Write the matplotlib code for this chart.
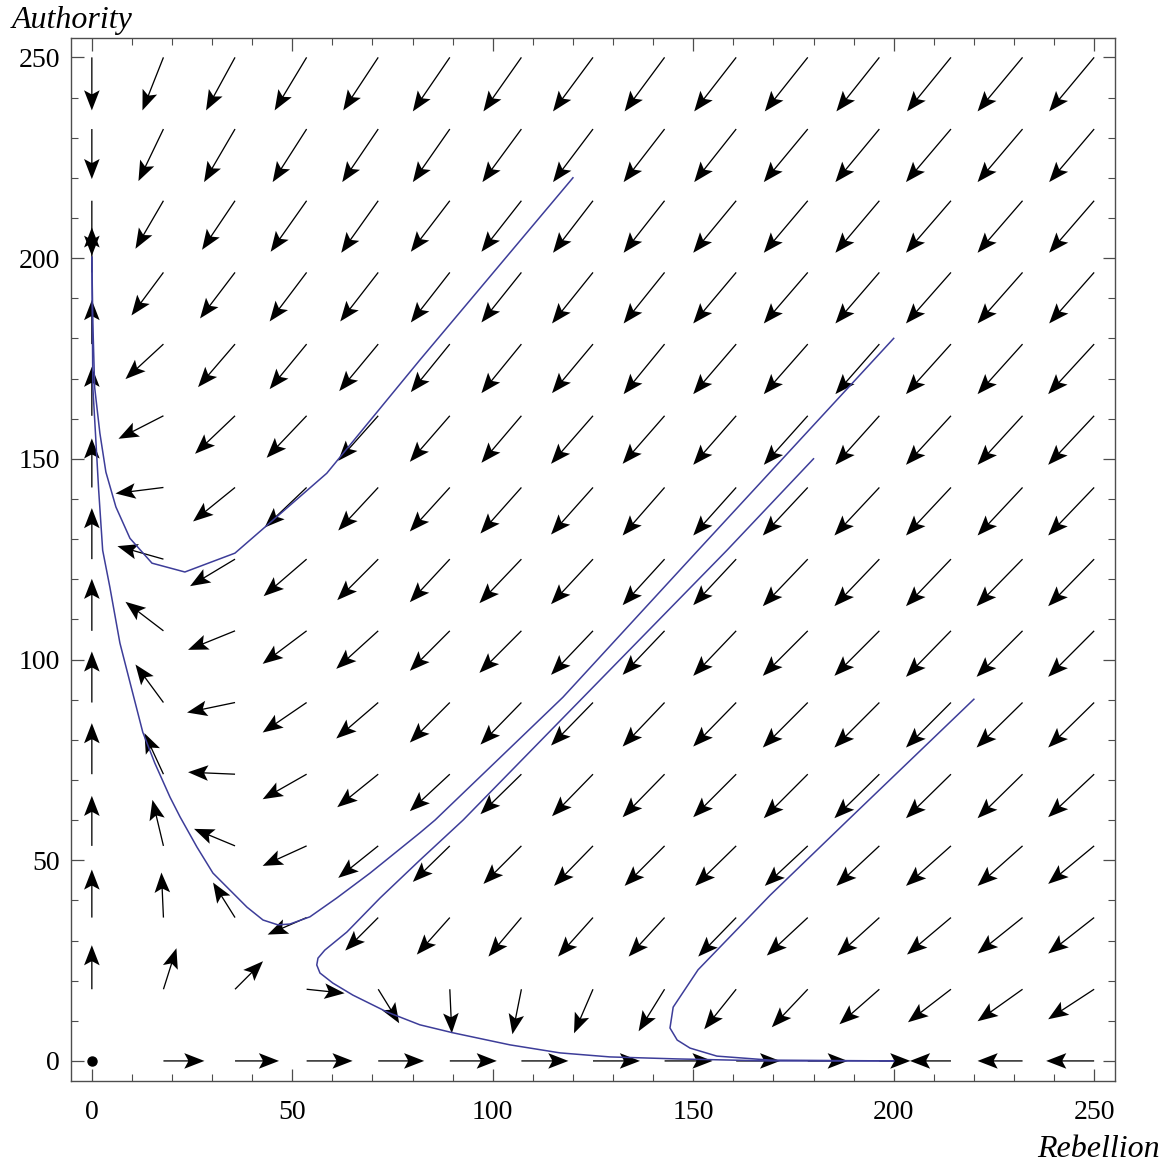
import numpy as np
import matplotlib
matplotlib.use("Agg")
import matplotlib.pyplot as plt
from matplotlib.ticker import MultipleLocator

plt.rcParams['font.family'] = ['Liberation Serif', 'DejaVu Serif']

# Grid of sample points (Rebellion, Authority)
grid = np.linspace(0, 250, 15)

# Arrow components (relative units), rows = Authority level (0 -> 250),
# columns = Rebellion level (0 -> 250)
dR = [
    [0, 41, 44, 46, 46, 47, 47, 47, 48, 44, 40, 31, -41, -45, -48],
    [0, 13, 28, 38, 21, 2, -9, -19, -26, -32, -36, -40, -43, -45, -46],
    [0, -2, -22, -39, -33, -33, -33, -35, -36, -38, -41, -42, -44, -45, -46],
    [0, -11, -41, -44, -40, -37, -38, -39, -40, -41, -43, -43, -45, -45, -46],
    [0, -19, -47, -44, -41, -40, -41, -41, -42, -43, -44, -45, -45, -45, -46],
    [0, -28, -48, -44, -42, -40, -41, -42, -42, -43, -45, -45, -45, -46, -46],
    [0, -38, -47, -44, -42, -40, -42, -42, -42, -43, -45, -45, -45, -46, -46],
    [0, -46, -45, -43, -41, -40, -42, -42, -42, -43, -45, -45, -45, -46, -46],
    [0, -48, -42, -42, -40, -40, -41, -42, -42, -43, -45, -45, -45, -45, -46],
    [0, -45, -40, -40, -40, -40, -40, -42, -42, -43, -44, -44, -45, -45, -46],
    [0, -38, -37, -37, -39, -39, -40, -41, -41, -43, -44, -44, -45, -45, -46],
    [0, -32, -35, -37, -38, -39, -40, -41, -41, -43, -44, -44, -45, -45, -45],
    [0, -28, -33, -36, -37, -39, -40, -40, -41, -43, -44, -44, -45, -45, -45],
    [0, -25, -31, -34, -36, -37, -39, -40, -41, -42, -44, -44, -45, -45, -45],
    [0, -21, -29, -32, -35, -37, -38, -40, -40, -42, -43, -43, -44, -45, -45],
]
dA = [
    [0, 0, 0, 0, 0, 0, 0, 0, 0, 0, 0, 0, 0, 0, 0],
    [44, 41, 28, -4, -34, -44, -45, -44, -42, -40, -38, -35, -33, -32, -30],
    [48, 45, 35, -17, -33, -37, -39, -39, -39, -39, -38, -38, -37, -36, -36],
    [50, 46, 17, -20, -32, -36, -38, -40, -40, -40, -40, -40, -40, -40, -38],
    [51, 41, 2, -25, -33, -37, -40, -42, -43, -43, -44, -44, -44, -44, -43],
    [51, 38, -10, -30, -36, -40, -42, -43, -44, -44, -45, -45, -45, -45, -45],
    [52, 29, -19, -33, -38, -40, -42, -44, -44, -45, -45, -45, -46, -46, -46],
    [51, 13, -27, -37, -41, -43, -44, -45, -46, -46, -47, -47, -47, -47, -47],
    [49, -6, -34, -40, -43, -44, -46, -47, -48, -48, -48, -48, -48, -48, -48],
    [49, -23, -38, -42, -45, -46, -47, -48, -48, -49, -49, -49, -49, -49, -49],
    [44, -35, -43, -45, -47, -48, -49, -49, -50, -50, -50, -50, -50, -50, -50],
    [45, -43, -46, -49, -49, -50, -50, -51, -51, -51, -51, -51, -51, -51, -51],
    [-55, -48, -49, -51, -52, -51, -51, -52, -52, -52, -52, -52, -52, -52, -52],
    [-50, -52, -53, -53, -53, -53, -53, -53, -53, -53, -53, -53, -53, -53, -53],
    [-53, -53, -53, -53, -53, -54, -54, -54, -54, -54, -54, -54, -54, -54, -54],
]

# Trajectories (Rebellion, Authority)
traj1_R = [120, 81.8, 58.6, 43.2, 35.7, 23.2, 15.0, 9.5, 6.0, 3.5, 2.0, 0.7, 0.25, 0]
traj1_A = [220, 174.6, 146.4, 133.0, 126.5, 121.8, 124.0, 130.2, 138.0, 146.7, 156.4, 167.8, 183.8, 200.2]

traj2_R = [200, 151.2, 117.5, 85.6, 81.8, 69.4, 61.1, 54.4, 49.4, 46.4, 42.7, 38.7, 34.4, 30.2,
           26.2, 22.0, 19.5, 15.7, 12.7, 10.0, 7.0, 4.5, 2.7, 1.7, 1.0, 0.25, 0]
traj2_A = [180, 127.2, 90.6, 60.0, 56.8, 46.8, 40.6, 35.9, 34.1, 33.9, 35.1, 38.3, 42.6, 46.8,
           53.3, 60.8, 65.7, 74.2, 81.9, 92.4, 104.1, 118.0, 127.2, 142.2, 154.6, 167.8, 200.2]

traj3_R = [180, 158.4, 92.6, 81.8, 71.9, 63.6, 58.1, 56.4, 56.1, 56.9, 60.1, 65.1, 73.6, 81.8,
           90.1, 104.3, 116.8, 129.2, 146, 169.2, 200]
traj3_A = [150, 127.2, 60.0, 50.0, 40.6, 32.1, 27.6, 25.6, 23.9, 21.9, 19.4, 16.4, 12.2, 9.0,
           7.0, 4.0, 2.0, 1.0, 0.5, 0, 0]

traj4_R = [220, 188.6, 169.2, 151.2, 145.0, 144.2, 146.0, 149.2, 155.9, 169.2, 200]
traj4_A = [90.1, 60.0, 41.3, 22.7, 13.4, 8.2, 5.2, 3.2, 1.2, 0.2, 0]

x_ticks = [0, 50, 100, 150, 200, 250]
y_ticks = [0, 50, 100, 150, 200, 250]

W, H = 1168, 1163
fig = plt.figure(figsize=(W / 100, H / 100), dpi=100)
ax = fig.add_axes([71 / W, 1 - 1081 / H, (1115 - 71) / W, (1081 - 37.7) / H])

X, Y = np.meshgrid(grid, grid)
U = np.array(dR, dtype=float)
V = np.array(dA, dtype=float)
nz = (U != 0) | (V != 0)

ax.quiver(X[nz], Y[nz], U[nz], V[nz], angles='xy', scale_units='xy', scale=4.01,
          pivot='tail', units='dots', width=1.3, headwidth=12, headlength=15.5,
          headaxislength=12.5, color='black', zorder=2)
ax.plot(X[~nz], Y[~nz], 'o', color='black', ms=6.5, zorder=2)

blue = (0.24, 0.24, 0.6)
for r, a in [(traj1_R, traj1_A), (traj2_R, traj2_A), (traj3_R, traj3_A), (traj4_R, traj4_A)]:
    ax.plot(r, a, color=blue, lw=1.1, zorder=3)

ax.set_xlim(-5.2, 255.2)
ax.set_ylim(-5.0, 254.9)
ax.set_xticks(x_ticks)
ax.set_yticks(y_ticks)
ax.xaxis.set_minor_locator(MultipleLocator(10))
ax.yaxis.set_minor_locator(MultipleLocator(10))

frame_col = '#4d4d4d'
for s in ax.spines.values():
    s.set_color(frame_col)
    s.set_linewidth(1.0)
ax.tick_params(which='both', direction='in', top=True, right=True, color=frame_col)
ax.tick_params(which='major', length=9, width=0.9)
ax.tick_params(which='minor', length=5, width=0.8)
ax.tick_params(axis='x', which='major', pad=14, labelsize=20)
ax.tick_params(axis='y', which='major', pad=8, labelsize=20)

fig.text(12 / W, 1 - 28 / H, 'Authority', style='italic', fontsize=23,
         ha='left', va='baseline')
fig.text(1160 / W, 1 - 1157 / H, 'Rebellion', style='italic', fontsize=23,
         ha='right', va='baseline')

fig.savefig('out.png', dpi=100)
